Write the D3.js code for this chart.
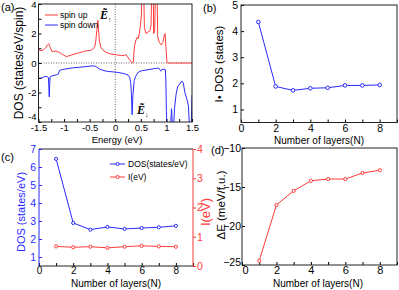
<html>
<head>
<title>dos layers</title>
<script src="https://cdn.jsdelivr.net/npm/d3@7"></script>
<style>
body { margin:0; background:white; }
svg { font-family: "Liberation Sans", Arial, sans-serif; }
</style>
</head>
<body>
<svg id="fig" width="399" height="290"></svg>
<script>
// ---- data ----
var upE = [-1.5,-1.45,-1.4,-1.36,-1.32,-1.3,-1.27,-1.24,-1.2,-1.16,-1.12,-1.09,-1.05,-1,-0.96,-0.92,-0.85,-0.78,-0.7,-0.62,-0.55,-0.48,-0.43,-0.4,-0.38,-0.36,-0.34,-0.33,-0.31,-0.28,-0.24,-0.18,-0.1,-0.02,0.05,0.12,0.18,0.21,0.24,0.28,0.31,0.33,0.35,0.37,0.38,0.4,0.43,0.45,0.47,0.49,0.51,0.53,0.55,0.57,0.6,0.64,0.68,0.7,0.72,0.74,0.75,0.77,0.79,0.81,0.83,0.86,0.9,0.93,0.96,0.975,0.99,1.01,1.02,1.5];
var upV = [0.88,0.84,0.9,1.04,1.25,1.3,1.05,0.8,0.78,0.82,0.75,0.72,0.62,0.52,0.44,0.47,0.55,0.62,0.7,0.78,0.83,0.86,0.96,1.1,1.5,2.2,2.9,2.4,1.5,1.05,0.88,0.72,0.62,0.58,0.54,0.5,0.52,0.58,0.42,0.22,0.08,0,0.04,0.9,1.2,1.5,1.75,1.65,2,2.5,3.2,6,6,2.4,2,2.1,2.2,2.6,6,6,2,2.1,6,6,1.8,1.4,1.22,1.4,1.9,2,1.1,0.05,0,0];
var downE = [-1.5,-1.44,-1.38,-1.33,-1.305,-1.29,-1.275,-1.22,-1.15,-1.11,-1.09,-1.03,-0.96,-0.83,-0.7,-0.57,-0.45,-0.4,-0.36,-0.3,-0.22,-0.15,-0.05,0.05,0.12,0.2,0.25,0.28,0.3,0.315,0.33,0.345,0.37,0.4,0.45,0.52,0.6,0.7,0.8,0.85,0.87,0.89,0.91,0.95,0.98,0.99,1,1.02,1.07,1.1,1.13,1.16,1.19,1.22,1.26,1.3,1.33,1.36,1.4,1.43,1.46,1.48,1.5];
var downV = [-1.07,-1.02,-0.92,-0.93,-1,-2.3,-0.95,-0.86,-0.8,-0.75,-0.5,-0.44,-0.4,-0.33,-0.29,-0.24,-0.2,-0.2,-0.28,-0.42,-0.52,-0.57,-0.6,-0.64,-0.68,-0.75,-0.82,-0.95,-1.3,-2,-3.5,-2.2,-1.2,-0.9,-0.62,-0.52,-0.48,-0.42,-0.36,-0.34,-0.45,-0.55,-0.45,-0.42,-0.45,-1.3,-3.3,-5,-5,-3.1,-5,-3,-2.1,-1.6,-1.42,-1.22,-1.35,-2,-2.45,-2.9,-5,-5,-2.2];

var layers = [1,2,3,4,5,6,7,8];
var iDos = [4.35,1.88,1.73,1.81,1.83,1.92,1.92,1.94];
var dosN = [6.45,2.89,2.52,2.67,2.56,2.61,2.65,2.73];
var iN = [0.67,0.64,0.66,0.62,0.66,0.69,0.67,0.66];
var dE = [-24.45,-17.3,-15.5,-14.2,-13.98,-13.98,-13.2,-12.85];

var energyTicks = [-1.5,-1,-0.5,0,0.5,1,1.5];
var layerTicks = [0,2,4,6,8];

var red = "#ff3b3b", blue = "#2a2aff";
var svg = d3.select("#fig");
var fmtInt = d3.format("d");

function frame(g, x, y) {
  g.append("rect").attr("x", x.range()[0]).attr("y", y.range()[1])
    .attr("width", x.range()[1]-x.range()[0]).attr("height", y.range()[0]-y.range()[1])
    .attr("fill","none").attr("stroke","#222").attr("stroke-width",1);
}
function styleAxis(a, col, fs) {
  a.select(".domain").remove();
  a.selectAll("line").attr("stroke", col);
  a.selectAll("text").attr("fill", col).style("font-size", fs+"px");
}
function layerFmt(d) { return layerTicks.indexOf(d)>=0 ? d : ""; }

// ---- (a) ----
var xa = d3.scaleLinear().domain([-1.5,1.5]).range([38.5,192]);
var ya = d3.scaleLinear().domain([-4,4]).range([122,4]);
var ga = svg.append("g");
ga.append("defs").append("clipPath").attr("id","clipA").append("rect")
  .attr("x",38.5).attr("y",4).attr("width",153.5).attr("height",118);
ga.append("line").attr("x1",xa(-1.5)).attr("x2",xa(1.5)).attr("y1",ya(0)).attr("y2",ya(0))
  .attr("stroke","#666").attr("stroke-dasharray","1,1.5");
ga.append("line").attr("x1",xa(0)).attr("x2",xa(0)).attr("y1",ya(4)).attr("y2",ya(-4))
  .attr("stroke","#666").attr("stroke-dasharray","1,1.5");
var lineA = d3.line().x(function(d){return xa(d[0]);}).y(function(d){return ya(d[1]);});
ga.append("path").datum(d3.zip(upE,upV)).attr("d",lineA).attr("fill","none")
  .attr("stroke",red).attr("stroke-width",1).attr("clip-path","url(#clipA)");
ga.append("path").datum(d3.zip(downE,downV)).attr("d",lineA).attr("fill","none")
  .attr("stroke",blue).attr("stroke-width",1).attr("clip-path","url(#clipA)");
ga.append("g").attr("transform","translate(0,122)")
  .call(d3.axisBottom(xa).tickValues(d3.range(-1.5,1.51,0.25)).tickSize(-3).tickPadding(2).tickFormat(function(d){var v=+d.toFixed(2); return energyTicks.indexOf(v)>=0 ? String(v) : "";}))
  .call(styleAxis,"#000",9.5);
ga.append("g").attr("transform","translate(38.5,0)")
  .call(d3.axisLeft(ya).tickValues([-4,-3,-2,-1,0,1,2,3,4]).tickSize(-3).tickPadding(2).tickFormat(function(d){return d%2==0 ? String(d) : "";}))
  .call(styleAxis,"#000",9.5)
  .selectAll("text").filter(function(d){return d==-4;}).attr("dy","-0.3em");
frame(ga, xa, ya);
ga.append("text").attr("x",117).attr("y",143).attr("text-anchor","middle").style("font-size","9.5px").text("Energy (eV)");
ga.append("text").attr("transform","translate(23,63) rotate(-90)").attr("text-anchor","middle").style("font-size","12px").text("DOS (states/eV/spin)");
ga.append("line").attr("x1",45).attr("x2",58).attr("y1",15).attr("y2",15).attr("stroke",red);
ga.append("text").attr("x",60).attr("y",18).style("font-size","8.5px").text("spin up");
ga.append("line").attr("x1",45).attr("x2",58).attr("y1",25).attr("y2",25).attr("stroke",blue);
ga.append("text").attr("x",60).attr("y",28).style("font-size","8.5px").text("spin down");
var e1 = ga.append("text").attr("x",100).attr("y",19).style("font-family","Liberation Serif").style("font-size","12px").style("font-weight","bold").style("font-style","italic");
e1.append("tspan").text("Ẽ");
e1.append("tspan").attr("dy",3).style("font-size","7px").style("font-style","normal").text("↑");
var e2 = ga.append("text").attr("x",137).attr("y",114).style("font-family","Liberation Serif").style("font-size","12px").style("font-weight","bold").style("font-style","italic");
e2.append("tspan").text("Ẽ");
e2.append("tspan").attr("dy",3).style("font-size","7px").style("font-style","normal").text("↓");
ga.append("text").attr("x",1).attr("y",11).style("font-size","11px").text("(a)");

// ---- (b) ----
var xb = d3.scaleLinear().domain([0,9]).range([241,397]);
var yb = d3.scaleLinear().domain([0.5,5]).range([122.5,5]);
var gb = svg.append("g");
gb.append("g").attr("transform","translate(0,122.5)")
  .call(d3.axisBottom(xb).tickValues([0,1,2,3,4,5,6,7,8,9]).tickSize(-3).tickPadding(2).tickFormat(layerFmt))
  .call(styleAxis,"#000",10.5);
gb.append("g").attr("transform","translate(241,0)")
  .call(d3.axisLeft(yb).tickValues([1,2,3,4,5]).tickSize(-3).tickPadding(3).tickFormat(fmtInt))
  .call(styleAxis,"#000",10.5);
frame(gb, xb, yb);
gb.append("path").datum(d3.zip(layers,iDos))
  .attr("d", d3.line().x(function(d){return xb(d[0]);}).y(function(d){return yb(d[1]);}))
  .attr("fill","none").attr("stroke",blue);
gb.selectAll("circle").data(d3.zip(layers,iDos)).enter().append("circle")
  .attr("cx",function(d){return xb(d[0]);}).attr("cy",function(d){return yb(d[1]);}).attr("r",1.8)
  .attr("fill","white").attr("stroke",blue);
gb.append("text").attr("x",319).attr("y",144).attr("text-anchor","middle").style("font-size","10px").text("Number of layers(N)");
gb.append("text").attr("transform","translate(223,64) rotate(-90)").attr("text-anchor","middle").style("font-size","11.5px").text("I• DOS (states)");
gb.append("text").attr("x",203).attr("y",12).style("font-size","11px").text("(b)");

// ---- (c) ----
var xc = d3.scaleLinear().domain([0,9]).range([39,193]);
var yc = d3.scaleLinear().domain([0.5,7]).range([266,149]);
var yc2 = d3.scaleLinear().domain([0,4]).range([266,149]);
var gc = svg.append("g");
gc.append("g").attr("transform","translate(0,266)")
  .call(d3.axisBottom(xc).tickValues([0,1,2,3,4,5,6,7,8,9]).tickSize(-3).tickPadding(1).tickFormat(layerFmt))
  .call(styleAxis,"#000",10);
gc.append("line").attr("x1",39).attr("x2",193).attr("y1",149).attr("y2",149).attr("stroke","#222");
gc.append("line").attr("x1",39).attr("x2",193).attr("y1",266).attr("y2",266).attr("stroke","#222");
gc.append("g").attr("transform","translate(39,0)")
  .call(d3.axisLeft(yc).tickValues([1,2,3,4,5,6,7]).tickSize(-3).tickPadding(3).tickFormat(fmtInt))
  .call(styleAxis,blue,10.5);
gc.append("line").attr("x1",39).attr("x2",39).attr("y1",149).attr("y2",266).attr("stroke",blue);
gc.append("g").attr("transform","translate(193,0)")
  .call(d3.axisRight(yc2).tickValues([0,1,2,3,4]).tickSize(3).tickPadding(1).tickFormat(fmtInt))
  .call(styleAxis,red,10.5);
gc.append("line").attr("x1",193).attr("x2",193).attr("y1",149).attr("y2",266).attr("stroke",red);
var lineC = d3.line().x(function(d){return xc(d[0]);}).y(function(d){return yc(d[1]);});
var lineC2 = d3.line().x(function(d){return xc(d[0]);}).y(function(d){return yc2(d[1]);});
gc.append("path").datum(d3.zip(layers,dosN)).attr("d",lineC).attr("fill","none").attr("stroke",blue);
gc.append("g").selectAll("circle").data(d3.zip(layers,dosN)).enter().append("circle")
  .attr("cx",function(d){return xc(d[0]);}).attr("cy",function(d){return yc(d[1]);}).attr("r",1.6)
  .attr("fill","white").attr("stroke",blue);
gc.append("path").datum(d3.zip(layers,iN)).attr("d",lineC2).attr("fill","none").attr("stroke",red);
gc.append("g").selectAll("circle").data(d3.zip(layers,iN)).enter().append("circle")
  .attr("cx",function(d){return xc(d[0]);}).attr("cy",function(d){return yc2(d[1]);}).attr("r",1.6)
  .attr("fill","white").attr("stroke",red);
gc.append("line").attr("x1",110).attr("x2",125).attr("y1",164).attr("y2",164).attr("stroke",blue);
gc.append("circle").attr("cx",117.5).attr("cy",164).attr("r",1.6).attr("fill","white").attr("stroke",blue);
gc.append("text").attr("x",128).attr("y",167).style("font-size","8.5px").text("DOS(states/eV)");
gc.append("line").attr("x1",110).attr("x2",125).attr("y1",177).attr("y2",177).attr("stroke",red);
gc.append("circle").attr("cx",117.5).attr("cy",177).attr("r",1.6).attr("fill","white").attr("stroke",red);
gc.append("text").attr("x",128).attr("y",180).style("font-size","8.5px").text("I(eV)");
gc.append("text").attr("x",116).attr("y",287).attr("text-anchor","middle").style("font-size","10px").text("Number of layers(N)");
gc.append("text").attr("transform","translate(25,212) rotate(-90)").attr("text-anchor","middle").attr("fill",blue).style("font-size","11px").text("DOS (states/eV)");
gc.append("text").attr("transform","translate(210,212) rotate(-90)").attr("text-anchor","middle").attr("fill",red).style("font-size","13px").text("I(eV)");
gc.append("text").attr("x",1).attr("y",161).style("font-size","11px").text("(c)");

// ---- (d) ----
var xd = d3.scaleLinear().domain([0,9]).range([242,397]);
var yd = d3.scaleLinear().domain([-25,-10]).range([265,148]);
var gd = svg.append("g");
gd.append("g").attr("transform","translate(0,265)")
  .call(d3.axisBottom(xd).tickValues([0,1,2,3,4,5,6,7,8,9]).tickSize(-3).tickPadding(1).tickFormat(layerFmt))
  .call(styleAxis,"#000",11)
  .selectAll("text").filter(function(d){return d==0;}).attr("dx","3");
gd.append("g").attr("transform","translate(242,0)")
  .call(d3.axisLeft(yd).tickValues([-25,-20,-15,-10]).tickSize(-3).tickPadding(1).tickFormat(fmtInt))
  .call(styleAxis,"#000",10.5)
  .selectAll("text").filter(function(d){return d==-25;}).attr("dy","0");
frame(gd, xd, yd);
gd.append("path").datum(d3.zip(layers,dE))
  .attr("d", d3.line().x(function(d){return xd(d[0]);}).y(function(d){return yd(d[1]);}))
  .attr("fill","none").attr("stroke",red);
gd.selectAll("circle").data(d3.zip(layers,dE)).enter().append("circle")
  .attr("cx",function(d){return xd(d[0]);}).attr("cy",function(d){return yd(d[1]);}).attr("r",1.6)
  .attr("fill","white").attr("stroke",red);
gd.append("text").attr("x",318).attr("y",287).attr("text-anchor","middle").style("font-size","10px").text("Number of layers(N)");
gd.append("text").attr("transform","translate(225,205) rotate(-90)").attr("text-anchor","middle").style("font-size","11.5px").text("ΔE (meV/f.u.)");
gd.append("text").attr("x",211).attr("y",154).style("font-size","11px").text("(d)");
</script>
</body>
</html>
